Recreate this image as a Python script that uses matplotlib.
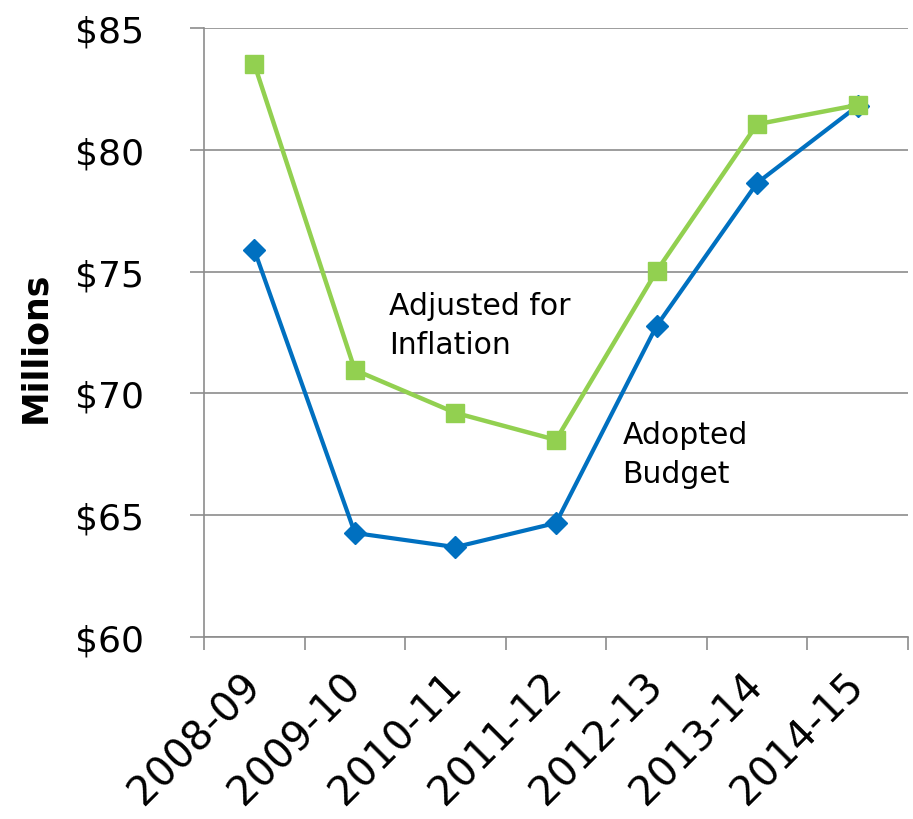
import matplotlib
matplotlib.use("Agg")
import matplotlib.pyplot as plt
import numpy as np

categories = ["2008-09", "2009-10", "2010-11", "2011-12", "2012-13", "2013-14", "2014-15"]
adopted_budget = [75.89, 64.27, 63.69, 64.68, 72.77, 78.64, 81.80]
adjusted_inflation = [83.52, 70.96, 69.20, 68.09, 75.02, 81.05, 81.84]
y_ticks = [60, 65, 70, 75, 80, 85]
y_labels = ["$60", "$65", "$70", "$75", "$80", "$85"]

plt.rcParams['font.family'] = ['DejaVu Sans']

fig = plt.figure(figsize=(9.13, 8.20), dpi=100)
ax = fig.add_axes([204/913, 1-638/820, (908-204)/913, (638-29)/820])

x = np.arange(len(categories)) + 0.5
grid_c = "#8c8c8c"
blue = "#0070C0"
green = "#92D050"

ax.plot(x, adopted_budget, color=blue, lw=3.0, marker="D", markersize=11, zorder=3)
ax.plot(x, adjusted_inflation, color=green, lw=3.2, marker="s", markersize=13.5, zorder=4)

ax.set_xlim(0, len(categories))
ax.set_ylim(60, 85)
ax.set_yticks(y_ticks)
ax.set_yticklabels(y_labels, fontsize=26)
ax.yaxis.grid(True, color=grid_c, lw=1.2)
ax.set_axisbelow(True)

ax.set_xticks(np.arange(len(categories) + 1))
ax.set_xticklabels([])
ax.set_xticks(x, minor=True)
ax.set_xticklabels(categories, minor=True, rotation=45, ha="right", va="center",
                   rotation_mode="anchor", fontsize=29)
ax.tick_params(axis="x", which="minor", length=0, pad=30)
ax.tick_params(axis="x", which="major", length=9, color=grid_c, width=1.2, direction="out")
ax.tick_params(axis="y", length=10, color=grid_c, width=1.2, direction="out", pad=33)

for s in ["top", "right"]:
    ax.spines[s].set_visible(False)
for s in ["left", "bottom"]:
    ax.spines[s].set_color(grid_c)
    ax.spines[s].set_linewidth(1.2)

ax.set_ylabel("Millions", fontsize=25, fontweight="bold")
ax.yaxis.set_label_coords((52-204)/704, (638-347)/609)

ax.text(1.84, 72.8, "Adjusted for\nInflation", fontsize=21.5, va="center", ha="left",
        linespacing=1.45)
ax.text(4.16, 67.5, "Adopted\nBudget", fontsize=21.5, va="center", ha="left",
        linespacing=1.45)

fig.savefig("out.png", dpi=100)
